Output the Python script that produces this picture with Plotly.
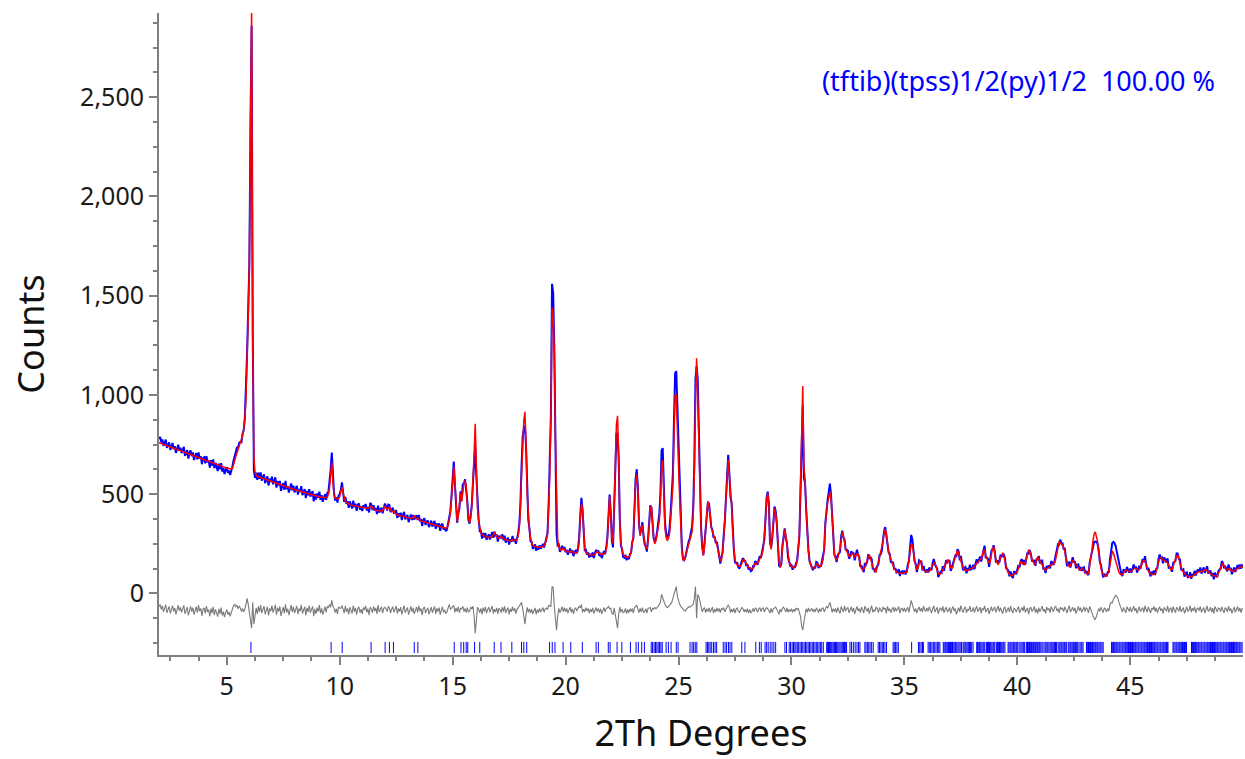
import plotly.graph_objects as go

# Scan grid (degrees 2-theta)
TTH_START = 2.0
TTH_STEP = 0.05

# Calculated profile (counts), one row per degree: x.00, x.05, ... x.95
calc_counts = [
    760, 758, 756, 754, 751, 749, 747, 745, 743, 741, 738, 736, 734, 732, 730, 728, 726, 723, 721, 719,
    717, 715, 713, 711, 709, 706, 704, 702, 700, 698, 696, 694, 691, 689, 687, 685, 683, 681, 679, 676,
    674, 672, 670, 668, 666, 664, 661, 659, 657, 655, 653, 651, 649, 646, 644, 642, 640, 638, 636, 634,
    632, 630, 628, 627, 627, 630, 646, 665, 688, 708, 725, 738, 752, 768, 795, 830, 880, 980, 1150, 1400,
    1670, 2420, 2950, 1270, 690, 612, 596, 590, 588, 586, 584, 582, 580, 578, 576, 574, 572, 570, 568, 566,
    564, 562, 560, 557, 555, 552, 550, 547, 545, 542, 540, 538, 537, 535, 533, 532, 530, 528, 527, 525,
    523, 521, 520, 518, 516, 515, 513, 511, 510, 508, 506, 504, 503, 501, 500, 498, 496, 494, 493, 491,
    490, 488, 487, 486, 485, 484, 483, 482, 482, 486, 500, 530, 610, 660, 560, 495, 480, 477, 476, 478,
    488, 512, 535, 505, 475, 464, 459, 455, 451, 448, 446, 444, 443, 441, 440, 438, 437, 436, 435, 434,
    433, 431, 430, 429, 428, 428, 432, 440, 442, 432, 424, 421, 419, 418, 416, 415, 414, 414, 418, 428,
    438, 432, 424, 428, 434, 424, 412, 414, 416, 404, 398, 396, 394, 393, 391, 390, 388, 387, 385, 384,
    382, 381, 379, 378, 378, 383, 390, 382, 378, 380, 374, 367, 365, 364, 362, 361, 359, 358, 356, 354,
    352, 351, 349, 347, 346, 344, 342, 341, 339, 337, 336, 334, 332, 330, 329, 331, 345, 370, 410, 480,
    580, 640, 560, 420, 362, 390, 440, 505, 462, 530, 560, 565, 540, 450, 376, 356, 380, 440, 540, 700,
    855, 620, 430, 368, 326, 306, 296, 291, 288, 286, 284, 283, 282, 282, 283, 287, 296, 306, 296, 285,
    279, 277, 284, 290, 282, 274, 271, 270, 268, 267, 266, 265, 268, 272, 267, 265, 266, 272, 290, 330,
    420, 600, 780, 870, 915, 760, 500, 380, 320, 276, 253, 243, 238, 236, 235, 234, 233, 233, 233, 234,
    236, 242, 252, 268, 300, 420, 600, 880, 1440, 1400, 1220, 780, 400, 272, 236, 222, 218, 222, 228, 220,
    214, 211, 209, 208, 210, 214, 210, 206, 204, 204, 206, 216, 260, 380, 452, 430, 290, 226, 206, 199,
    196, 195, 194, 194, 194, 195, 198, 206, 211, 207, 200, 197, 196, 197, 200, 206, 220, 272, 400, 490,
    400, 282, 252, 400, 640, 850, 895, 700, 360, 252, 216, 196, 188, 185, 183, 182, 184, 192, 210, 250,
    290, 420, 560, 600, 530, 360, 290, 330, 345, 300, 255, 228, 225, 262, 340, 430, 440, 345, 272, 250,
    265, 298, 330, 370, 470, 640, 672, 500, 330, 282, 268, 275, 300, 370, 440, 540, 800, 1000, 1000, 860,
    640, 480, 300, 215, 168, 168, 185, 205, 228, 245, 262, 280, 310, 400, 600, 960, 1185, 1000, 760, 500,
    320, 240, 190, 240, 340, 400, 465, 440, 400, 330, 305, 295, 280, 262, 248, 215, 180, 162, 172, 205,
    280, 370, 470, 560, 672, 590, 500, 450, 300, 210, 170, 150, 142, 138, 136, 138, 150, 168, 172, 160,
    148, 140, 134, 128, 124, 122, 128, 145, 152, 148, 155, 162, 175, 185, 200, 222, 280, 370, 470, 505,
    455, 270, 222, 290, 380, 428, 400, 350, 260, 160, 130, 155, 230, 280, 322, 290, 240, 190, 160, 145,
    135, 130, 132, 135, 140, 160, 215, 300, 540, 800, 1045, 640, 580, 420, 290, 210, 168, 145, 128, 125,
    128, 135, 148, 150, 140, 135, 140, 150, 170, 230, 350, 420, 460, 480, 513, 480, 400, 270, 200, 175,
    170, 180, 200, 225, 270, 310, 290, 250, 225, 212, 200, 188, 185, 195, 205, 195, 185, 192, 200, 198,
    175, 145, 125, 118, 122, 132, 145, 165, 185, 195, 175, 150, 135, 120, 112, 110, 135, 160, 180, 195,
    225, 260, 310, 323, 305, 250, 210, 190, 170, 150, 140, 128, 115, 108, 105, 103, 102, 102, 102, 104,
    104, 104, 106, 130, 175, 215, 245, 244, 205, 170, 140, 122, 128, 150, 168, 150, 125, 118, 112, 110,
    110, 111, 112, 118, 132, 145, 152, 155, 135, 110, 100, 95, 98, 108, 118, 126, 135, 152, 165, 168,
    150, 130, 125, 135, 165, 180, 205, 218, 200, 175, 165, 145, 128, 120, 116, 115, 117, 120, 124, 127,
    128, 130, 134, 142, 152, 160, 165, 170, 176, 190, 215, 218, 190, 176, 162, 152, 160, 195, 228, 232,
    195, 170, 155, 145, 160, 178, 195, 205, 190, 160, 140, 118, 102, 95, 90, 88, 92, 98, 102, 106,
    110, 125, 145, 160, 158, 150, 145, 155, 175, 195, 220, 210, 182, 170, 160, 148, 150, 168, 185, 175,
    160, 152, 145, 130, 120, 118, 122, 127, 132, 138, 144, 148, 150, 152, 175, 210, 240, 258, 255, 250,
    242, 228, 212, 180, 152, 140, 136, 140, 155, 168, 160, 150, 144, 138, 126, 118, 120, 124, 126, 115,
    108, 100, 96, 105, 135, 170, 215, 268, 300, 310, 290, 262, 210, 165, 128, 108, 92, 86, 88, 94,
    98, 112, 140, 175, 215, 205, 185, 165, 140, 118, 105, 98, 94, 96, 105, 115, 118, 116, 112, 110,
    110, 112, 118, 125, 128, 125, 120, 118, 120, 130, 145, 160, 168, 165, 145, 128, 112, 104, 100, 98,
    95, 96, 100, 112, 140, 168, 178, 180, 172, 168, 166, 165, 160, 155, 140, 125, 118, 122, 135, 158,
    175, 186, 194, 178, 150, 128, 115, 108, 100, 94, 88, 85, 84, 83, 83, 86, 92, 98, 102, 105,
    108, 110, 112, 110, 112, 116, 118, 120, 115, 108, 104, 100, 96, 92, 88, 85, 84, 90, 100, 112,
    130, 145, 152, 140, 125, 118, 120, 125, 126, 118, 112, 110, 114, 118, 120, 124, 128, 134, 136, 134,
    132,
]

# Observed minus calculated (counts), same grid
residual = [
    18, 30, 5, 22, -8, 14, 28, -12, 6, 20, -15, 10, 24, -5, 12, -20, 8, 26, -2, 15,
    -10, 12, 25, -18, 4, 16, -25, 8, 20, -6, 14, -22, 2, 18, -12, 26, -4, 10, -28, 6,
    12, -16, 22, -8, 3, -30, 10, -14, 18, -24, 5, -10, -32, 8, -18, 14, -26, -6, -34, -12,
    4, -22, -8, -30, -12, 10, 24, 30, 18, 26, 8, 20, 12, -6, 10, -8, 5, 30, 60, 30,
    -10, -60, -90, 40, -70, -30, 12, -18, 20, -8, 26, -14, 8, 22, -20, 4, 18, -26, 10, -4,
    24, -12, 6, 28, -22, 14, -6, 20, -28, 2, 16, -16, 30, -10, 8, -24, 12, 26, -8, 18,
    -14, 6, 22, -20, 10, -4, 28, -16, 4, 18, -26, 12, -8, 24, -12, 2, 20, -30, 8, -18,
    14, -6, 26, -14, 10, -22, 4, 18, -10, 20, 12, 30, 15, 50, 20, 10, -12, 8, -18, 16,
    12, 10, 25, 6, -14, 22, -8, 10, -20, 16, 4, -16, 24, -6, 12, -22, 8, 18, -12, 6,
    -18, 14, 2, 22, -10, 8, -24, 16, 6, -12, 20, -4, 12, -18, 26, -8, 4, 18, -14, 10,
    15, 8, -6, 20, 12, -14, 6, 18, -10, 4, 22, -16, 10, -6, 16, -20, 8, 24, -12, 2,
    14, -22, 6, 20, -8, 12, -18, 4, 16, -10, 22, -4, 10, -24, 8, 18, -14, 2, 12, -20,
    6, 16, -12, 4, 20, -18, 10, -6, 14, -22, 8, 18, -10, 2, -16, -8, 12, 30, 6, 10,
    20, 25, -10, 12, -6, 18, -12, 10, 8, 20, -6, 10, -12, 14, -8, -4, 16, 8, 20, -30,
    -115, -30, 16, 6, -12, 10, -20, 14, -6, 18, -14, 4, 16, -10, 8, 22, -16, 6, -8, 12,
    -18, 10, 4, -12, 16, -6, 20, -14, 2, 14, -20, 8, -8, 18, -4, 10, -16, 6, 12, 20,
    30, 40, 10, -40, -70, -20, 15, -10, 8, -14, 6, -18, -6, 12, -20, 4, -12, 10, -8, 2,
    14, -10, 8, 12, 4, 25, 20, 20, 120, 115, 20, -60, -100, -30, 10, -12, 8, 18, -8, 14,
    -6, 10, -14, 4, 16, -10, 8, -18, 6, 12, -4, 10, 20, 12, 30, -10, 6, -8, 14, -4,
    10, -14, 6, -8, 12, -16, 4, 14, -6, 10, -12, 8, -18, 6, 14, -8, 10, 12, 20, 8,
    10, -16, -20, 12, -20, -40, -90, -20, 18, -10, 6, -12, -8, 10, -16, 4, -12, 8, -6, 10,
    -14, 12, 18, 26, 6, -12, 10, -8, 14, -10, -6, 8, -14, 10, 12, 14, -8, 10, 6, 14,
    8, 12, 20, 30, 40, 80, 60, 50, 30, 20, 14, 18, 24, 34, 40, 60, 80, 110, 120, 70,
    40, 30, 20, 10, 6, 0, -4, 6, 10, 18, 16, 22, 28, 30, 60, 120, -40, 80, 70, 40,
    10, -8, 6, 14, -12, 8, -6, 12, -10, 4, 16, -14, 6, -8, 12, -6, 10, -12, 8, 4,
    14, -8, 10, 18, 26, 16, -12, 6, -8, 10, -14, 6, 12, -6, -10, 8, 14, 10, -8, 4,
    -10, 8, -14, 4, -12, -6, 10, -8, 12, 6, -10, 8, 14, -6, 10, 12, -8, 6, 14, 8,
    -6, -14, 10, -12, 8, 10, 16, 6, -10, -20, 6, -8, 10, 16, 6, -8, 12, -10, 4, -6,
    8, -10, 6, -6, 12, 4, 10, -12, -30, -80, -100, -60, -20, 8, -10, 12, -6, 4, 10, -8,
    6, -8, 10, 4, -12, 8, -6, 10, 12, -8, 6, 20, 10, 30, 40, 20, -10, 8, -6, 10,
    -12, 14, 3, -16, 19, 6, -9, 22, -4, 8, 15, -13, 2, 18, -7, 11, -18, 5, 20, -3,
    9, -11, 16, 4, -14, 21, 1, -6, 13, -17, 7, 24, -10, 3, -5, 17, 8, -12, 14, 2,
    -9, 18, 5, 11, -15, 20, -3, 9, -12, 6, 16, -8, 13, -2, 4, 19, -14, 7, 10, -6,
    12, -7, 3, 15, -10, 18, 50, 30, 12, -8, 10, -14, 6, 17, -5, 11, -9, 21, 2, -4,
    12, -5, 18, 3, -14, 8, 22, -9, 1, 15, -18, 6, 11, -3, 20, -12, 4, 16, -7, -2,
    14, -16, 7, 19, -4, 10, -20, 5, 13, -8, 24, 2, -11, 9, 17, -13, 6, -1, 21, -6,
    -3, 15, -12, 8, 20, -7, 4, 16, -15, 10, 1, 23, -9, 5, 12, -18, 7, 19, -5, 11,
    17, -10, 3, 22, -6, 13, -2, -17, 9, 18, -12, 4, 14, -8, 21, 0, -14, 11, 6, -9,
    8, 19, -13, 5, 15, -4, 23, -10, 2, 12, -19, 9, 16, -6, 3, 20, -11, 7, -16, 14,
    -8, 12, 21, -5, 6, -15, 17, 1, 10, -12, 19, 4, -7, 14, 22, -3, 8, -13, 16, 5,
    11, -6, 18, 2, -14, 9, 24, -9, 5, 15, -4, 12, -17, 7, 20, -1, 13, -10, 3, 17,
    -7, 14, 4, -12, 19, 8, -10, -30, -40, -48, -30, -12, 9, -5, 16, 2, -11, 13, 6, -8,
    10, -4, 30, 40, 38, 55, 70, 75, 70, 60, 40, 22, 6, -9, 14, 3, -13, 18, 7, -5,
    16, -8, 5, 21, -3, 11, -15, 8, 19, -6, 2, 14, -11, 23, 4, -9, 17, 1, -14, 12,
    3, 20, -7, 13, -12, 6, 18, -2, 9, -16, 15, 4, -5, 22, -10, 8, 12, -13, 19, 0,
    -11, 16, 7, -4, 21, -8, 3, 14, -15, 10, 18, -6, 2, 24, -9, 11, -3, 17, -12, 6,
    13, -2, 19, -10, 5, 15, -14, 8, 22, -5, 1, 16, -9, 11, -17, 20, 4, -7, 12, 9,
    -6, 18, 2, -13, 14, 7, -8, 21, -3, 10, -15, 6, 17, -10, 3, 19, -5, 12, -11, 8,
    5,
]

# The difference curve is plotted shifted below zero
DIFF_OFFSET = -85

# Reflection positions (degrees 2-theta)
reflections = [
    6.07, 9.62, 10.11, 11.39, 12.01, 12.20, 12.38, 13.30, 13.46,
    15.07, 15.37, 15.49, 15.60, 15.67, 15.97, 16.20, 16.84, 17.14, 17.62,
    18.05, 18.15, 18.28, 19.29, 19.41, 19.53, 19.89, 20.23, 20.74,
    21.35, 21.45, 21.89, 21.97, 22.28, 22.49, 22.87,
    23.12, 23.22, 23.37, 23.49, 23.79, 23.85, 23.92, 23.98, 24.04, 24.10, 24.16, 24.22, 24.28,
    24.45, 24.55, 24.67, 24.90, 24.98, 25.51, 25.60, 25.67, 25.74, 25.81,
    26.22, 26.28, 26.34, 26.40, 26.47, 26.55, 26.62, 26.69,
    26.98, 27.06, 27.13, 27.21, 27.28, 27.36, 27.80, 27.94, 28.42, 28.58,
    28.66, 28.83, 28.90, 28.97, 29.06, 29.14, 29.22, 29.30, 29.71, 29.78,
    29.90, 29.96, 30.03, 30.09, 30.15, 30.20, 30.26, 30.32, 30.38, 30.44, 30.50, 30.56,
    30.62, 30.68, 30.74, 30.80, 30.86, 30.92, 30.98, 31.04, 31.10, 31.16, 31.22, 31.28,
    31.34, 31.41,
    31.56, 31.60, 31.64, 31.68, 31.72, 31.76, 31.80, 31.85, 31.90, 31.95, 32.00, 32.05,
    32.10, 32.15, 32.20, 32.25, 32.30, 32.35, 32.40, 32.44,
    32.59, 32.66, 32.74, 32.82, 32.90, 32.97, 33.03,
    33.25, 33.30, 33.36, 33.42, 33.48, 33.55, 33.62,
    33.84, 33.90, 33.96, 34.02, 34.08, 34.14, 34.21,
    34.50, 34.55, 34.61, 34.67, 34.73, 35.32,
    35.62, 35.68, 35.74, 35.80, 35.84,
    36.05, 36.10, 36.16, 36.22, 36.28, 36.34, 36.40, 36.46, 36.52, 36.57,
    36.72, 36.76, 36.81, 36.85, 36.90, 36.95, 37.00, 37.04, 37.09, 37.13, 37.16,
    37.23, 37.27, 37.32, 37.37, 37.42, 37.47, 37.53,
    37.60, 37.64, 37.69, 37.73, 37.78, 37.83, 37.88, 37.93, 37.98, 38.04,
    38.20, 38.24, 38.29, 38.33, 38.38, 38.43, 38.48, 38.52, 38.56,
    38.63, 38.68, 38.72, 38.77, 38.82, 38.87, 38.92, 38.96, 39.00,
    39.07, 39.12, 39.16, 39.21, 39.26, 39.31, 39.36, 39.40, 39.45,
    39.59, 39.63, 39.68, 39.72, 39.77, 39.82, 39.86, 39.90, 39.95, 39.99, 40.03,
    40.11, 40.16, 40.21, 40.26, 40.30, 40.33,
    40.41, 40.45, 40.50, 40.54, 40.59, 40.63, 40.68, 40.72, 40.77, 40.81, 40.86, 40.90,
    40.95, 40.99, 41.04, 41.09, 41.14,
    41.22, 41.26, 41.31, 41.35, 41.40, 41.45, 41.50, 41.54, 41.59, 41.64, 41.69, 41.73,
    41.80, 41.85, 41.89, 41.94, 41.98, 42.03, 42.08, 42.12, 42.17,
    42.25, 42.29, 42.34, 42.38, 42.43, 42.48, 42.52, 42.57, 42.61, 42.65, 42.69,
    42.77, 42.82, 42.86, 42.91,
    43.06, 43.10, 43.15, 43.19, 43.24, 43.29, 43.33, 43.38, 43.43, 43.47, 43.52, 43.56,
    43.61, 43.66, 43.70, 43.75, 43.80,
    44.17, 44.22, 44.26, 44.31, 44.36, 44.40, 44.45, 44.50, 44.54, 44.59, 44.64, 44.68,
    44.73, 44.78, 44.82, 44.87, 44.92, 44.96, 45.01, 45.06, 45.10, 45.15, 45.20, 45.24,
    45.29, 45.34, 45.38, 45.43, 45.48, 45.52, 45.57, 45.62, 45.66, 45.71, 45.76, 45.80,
    45.85, 45.90, 45.94, 45.99, 46.04, 46.08, 46.13, 46.18, 46.22, 46.27, 46.32, 46.36,
    46.41, 46.46, 46.50, 46.55, 46.60, 46.64, 46.67,
    46.89, 46.93, 46.98, 47.03, 47.07, 47.12, 47.17, 47.21, 47.26, 47.31, 47.35, 47.40,
    47.45, 47.49,
    47.71, 47.75, 47.80, 47.85, 47.89, 47.94, 47.99, 48.03, 48.08, 48.13, 48.17, 48.22,
    48.27, 48.31, 48.36, 48.41, 48.45, 48.50, 48.55, 48.59, 48.64, 48.69, 48.73, 48.78,
    48.83, 48.87, 48.92, 48.97, 49.01, 49.06, 49.11, 49.15, 49.20, 49.25, 49.29, 49.34,
    49.39, 49.43, 49.48, 49.53, 49.57, 49.62, 49.67, 49.71, 49.76, 49.81, 49.85, 49.90,
    49.95,
]
TICK_TOP = -244
TICK_BOTTOM = -300

Y_TICKS = [0, 500, 1000, 1500, 2000, 2500]
X_TICKS = [5, 10, 15, 20, 25, 30, 35, 40, 45]

PHASE_LABEL = "(tftib)(tpss)1/2(py)1/2\u00a0 100.00 %"

n = min(len(calc_counts), len(residual))
tth = [round(TTH_START + i * TTH_STEP, 2) for i in range(n)]
obs = [calc_counts[i] + residual[i] for i in range(n)]
diff = [residual[i] + DIFF_OFFSET for i in range(n)]

tick_x, tick_y = [], []
for p in reflections:
    tick_x += [p, p, None]
    tick_y += [TICK_TOP, TICK_BOTTOM, None]

AXIS_GREY = "#808080"
FONT = "Noto Sans"

fig = go.Figure()
fig.add_trace(go.Scatter(x=tth, y=diff, mode="lines",
                         line=dict(color="#7a7a7a", width=1.1), name="Diff"))
fig.add_trace(go.Scatter(x=tick_x, y=tick_y, mode="lines",
                         line=dict(color="#0000ff", width=1), name="hkl"))
fig.add_trace(go.Scatter(x=tth, y=obs, mode="lines",
                         line=dict(color="#0000ff", width=2), name="Yobs"))
fig.add_trace(go.Scatter(x=tth, y=calc_counts[:n], mode="lines",
                         line=dict(color="#ff0000", width=1.5), name="Ycalc"))

fig.add_annotation(text=PHASE_LABEL, xref="paper", yref="paper",
                   x=0.976, y=0.8956, xanchor="right", yanchor="middle",
                   showarrow=False, font=dict(family=FONT, size=27, color="#0000ff"))

fig.update_layout(
    width=1245, height=759,
    margin=dict(l=159, r=2, t=13, b=104),
    paper_bgcolor="white", plot_bgcolor="white",
    showlegend=False,
    font=dict(family=FONT, color="#1a1a1a"),
)
fig.update_xaxes(
    range=[2.0, 49.99], tickmode="array", tickvals=X_TICKS,
    showline=True, linecolor=AXIS_GREY, linewidth=2,
    ticks="outside", ticklen=8, tickwidth=2, tickcolor=AXIS_GREY,
    minor=dict(dtick=1.25, tick0=0, ticks="outside", ticklen=4, tickwidth=1.5, tickcolor=AXIS_GREY),
    showgrid=False, zeroline=False,
    tickfont=dict(family=FONT, size=25, color="#1a1a1a"),
    title=dict(text="2Th Degrees", font=dict(family=FONT, size=36, color="#111111"), standoff=20),
)
fig.update_yaxes(
    range=[-310, 2924], tickmode="array", tickvals=Y_TICKS, tickformat=",",
    showline=True, linecolor=AXIS_GREY, linewidth=2,
    ticks="outside", ticklen=8, tickwidth=2, tickcolor=AXIS_GREY,
    minor=dict(dtick=125, tick0=0, ticks="outside", ticklen=4, tickwidth=1.5, tickcolor=AXIS_GREY),
    showgrid=False, zeroline=False,
    tickfont=dict(family=FONT, size=25, color="#1a1a1a"),
    title=dict(text="Counts", font=dict(family=FONT, size=36, color="#111111"), standoff=24),
)

fig.write_html("out.html")
